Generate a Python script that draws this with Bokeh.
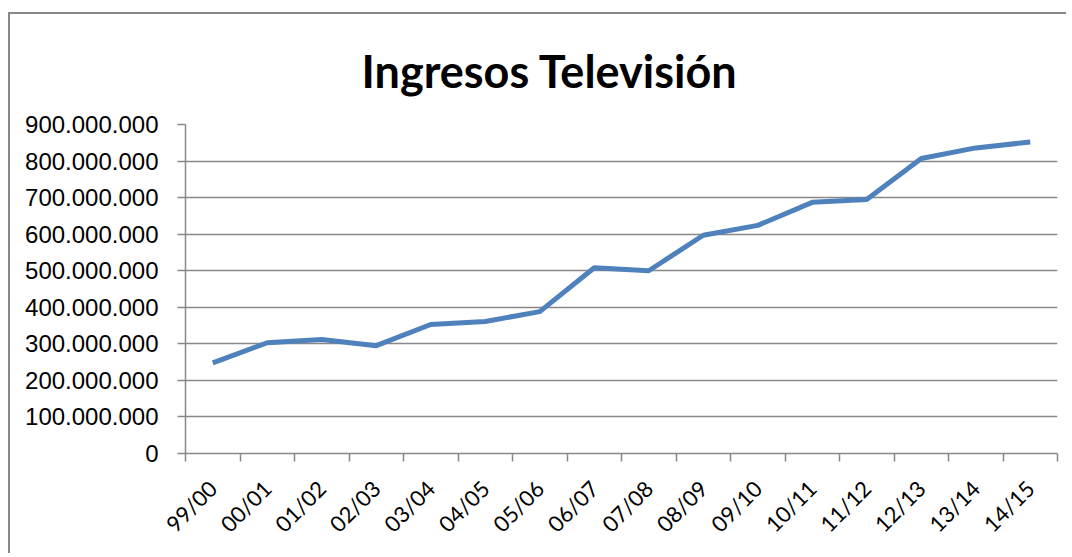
from bokeh.plotting import figure
from bokeh.models import FixedTicker, Title
from bokeh.embed import file_html
from bokeh.resources import INLINE
from math import pi

categories = ["99/00", "00/01", "01/02", "02/03", "03/04", "04/05", "05/06", "06/07",
              "07/08", "08/09", "09/10", "10/11", "11/12", "12/13", "13/14", "14/15"]
ingresos = [248e6, 303e6, 312e6, 295e6, 353e6, 361e6, 388e6, 508e6,
            500e6, 597e6, 624e6, 687e6, 695e6, 807e6, 836e6, 852e6]
y_ticks = [0, 100e6, 200e6, 300e6, 400e6, 500e6, 600e6, 700e6, 800e6, 900e6]

n = len(categories)
xs = [i + 0.5 for i in range(n)]

GREY = "#888888"

p = figure(width=1058, height=541, output_backend="svg", toolbar_location=None,
           x_range=(0, n), y_range=(0, 900e6),
           min_border_left=175, min_border_top=110, min_border_right=11,
           min_border_bottom=102)
p.styles = {"border-left": f"2px solid {GREY}", "border-top": f"2px solid {GREY}",
            "margin-top": "12px", "margin-left": "8px"}
p.outline_line_color = None
p.background_fill_color = "white"
p.border_fill_color = "white"

title = Title(text="Ingresos Televisión", align="left", offset=176, standoff=54,
              text_font="Lato", text_font_size="45px", text_font_style="bold",
              text_color="black")
p.add_layout(title, "above")

p.line(xs, ingresos, line_color="#4F81BD", line_width=5, line_join="round")

# x axis
p.xaxis.ticker = FixedTicker(ticks=xs, minor_ticks=list(range(n + 1)))
p.xaxis.major_label_overrides = {x: c for x, c in zip(xs, categories)}
p.xaxis.major_label_orientation = pi / 4
p.xaxis.major_tick_line_color = None
p.xaxis.minor_tick_line_color = GREY
p.xaxis.minor_tick_line_width = 1.5
p.xaxis.minor_tick_out = 8
p.xaxis.minor_tick_in = 0
p.xaxis.axis_line_color = GREY
p.xaxis.axis_line_width = 1.5
p.xaxis.major_label_text_font = "Lato"
p.xaxis.major_label_text_font_size = "22px"
p.xaxis.major_label_text_color = "black"
p.xaxis.major_label_standoff = 23

# y axis
p.yaxis.ticker = FixedTicker(ticks=y_ticks, minor_ticks=[])
p.yaxis.major_label_overrides = {t: f"{int(t):,}".replace(",", ".") for t in y_ticks}
p.yaxis.major_tick_line_color = GREY
p.yaxis.major_tick_line_width = 1.5
p.yaxis.major_tick_out = 8
p.yaxis.major_tick_in = 0
p.yaxis.minor_tick_line_color = None
p.yaxis.axis_line_color = GREY
p.yaxis.axis_line_width = 1.5
p.yaxis.major_label_text_font = "Liberation Sans"
p.yaxis.major_label_text_font_size = "24px"
p.yaxis.major_label_text_color = "black"
p.yaxis.major_label_standoff = 19

p.xgrid.grid_line_color = None
p.ygrid.ticker = FixedTicker(ticks=y_ticks)
p.ygrid.grid_line_color = GREY
p.ygrid.grid_line_width = 1.5

open("out.html", "w").write(file_html(p, INLINE))
